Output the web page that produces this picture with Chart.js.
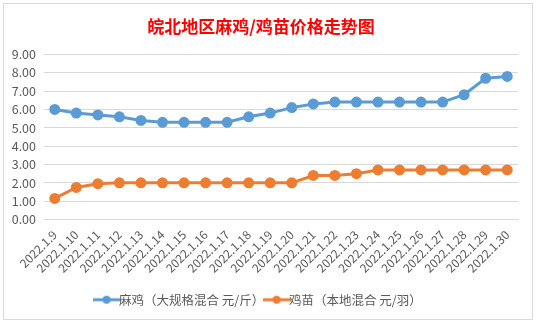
<!DOCTYPE html>
<html>
<head>
<meta charset="utf-8">
<script src="https://cdn.jsdelivr.net/npm/chart.js@4"></script>
<style>
  html, body { margin: 0; padding: 0; background: #fff; }
  body { width: 537px; height: 322px; position: relative; overflow: hidden; }
  #box {
    position: absolute; left: 3px; top: 3px; width: 528px; height: 315px;
    border: 1px solid #d9d9d9; background: #fff;
  }
  #box canvas { position: absolute; left: 0; top: 0; }
</style>
</head>
<body>
<div id="box"><canvas id="chart" width="528" height="315"></canvas></div>
<script>
// dates
const labels = [
  "2022.1.9", "2022.1.10", "2022.1.11", "2022.1.12", "2022.1.13", "2022.1.14",
  "2022.1.15", "2022.1.16", "2022.1.17", "2022.1.18", "2022.1.19", "2022.1.20",
  "2022.1.21", "2022.1.22", "2022.1.23", "2022.1.24", "2022.1.25", "2022.1.26",
  "2022.1.27", "2022.1.28", "2022.1.29", "2022.1.30",
];
const majiPrice = [6.0, 5.8, 5.7, 5.6, 5.4, 5.3, 5.3, 5.3, 5.3, 5.6, 5.8, 6.1, 6.3, 6.4, 6.4, 6.4, 6.4, 6.4, 6.4, 6.8, 7.7, 7.8];
const jimiaoPrice = [1.15, 1.75, 1.95, 2.0, 2.0, 2.0, 2.0, 2.0, 2.0, 2.0, 2.0, 2.0, 2.4, 2.4, 2.5, 2.7, 2.7, 2.7, 2.7, 2.7, 2.7, 2.7];
const seriesNames = ["麻鸡（大规格混合 元/斤）", "鸡苗（本地混合 元/羽）"];
const yTicks = [0, 1, 2, 3, 4, 5, 6, 7, 8, 9];

const blue = "#5b9bd5";
const orange = "#ed7d31";
const grey = "#595959";
const font = "'Noto Sans CJK SC', 'Open Sans', sans-serif";

// little line+dot marker for the legend, like excel
function legendMarker(color) {
  const c = document.createElement("canvas");
  c.width = 28;
  c.height = 10;
  const ctx = c.getContext("2d");
  ctx.strokeStyle = color;
  ctx.lineWidth = 3;
  ctx.beginPath();
  ctx.moveTo(0, 5);
  ctx.lineTo(28, 5);
  ctx.stroke();
  ctx.fillStyle = color;
  ctx.beginPath();
  ctx.arc(14, 5, 4, 0, Math.PI * 2);
  ctx.fill();
  return c;
}
const markers = [legendMarker(blue), legendMarker(orange)];

Chart.defaults.font.family = font;
Chart.defaults.color = grey;

new Chart(document.getElementById("chart"), {
  type: "line",
  data: {
    labels,
    datasets: [
      {
        label: seriesNames[0],
        data: majiPrice,
        borderColor: blue,
        backgroundColor: blue,
        borderWidth: 3,
        pointRadius: 4,
        pointHoverRadius: 4,
      },
      {
        label: seriesNames[1],
        data: jimiaoPrice,
        borderColor: orange,
        backgroundColor: orange,
        borderWidth: 3,
        pointRadius: 4,
        pointHoverRadius: 4,
      },
    ],
  },
  options: {
    responsive: false,
    animation: false,
    layout: { padding: { left: 0, right: 14, top: 0, bottom: 3 } },
    plugins: {
      title: {
        display: true,
        text: "皖北地区麻鸡/鸡苗价格走势图",
        color: "#ff0000",
        font: { size: 17, weight: "bold", family: font },
        padding: { top: 12, bottom: 18 },
      },
      legend: {
        position: "bottom",
        labels: {
          font: { size: 12.5 },
          color: grey,
          boxWidth: 28,
          padding: 6,
          generateLabels(chart) {
            return chart.data.datasets.map((ds, i) => ({
              text: ds.label,
              pointStyle: markers[i],
              fillStyle: ds.borderColor,
              strokeStyle: ds.borderColor,
              fontColor: grey,
              lineWidth: 0,
              datasetIndex: i,
            }));
          },
          usePointStyle: true,
        },
      },
      tooltip: { enabled: false },
    },
    scales: {
      x: {
        offset: true,
        grid: { display: false, drawTicks: false },
        border: { color: "#d9d9d9" },
        afterFit(scale) {
          scale.height = 68;
        },
        ticks: {
          autoSkip: false,
          minRotation: 45,
          maxRotation: 45,
          font: { size: 12 },
          color: grey,
          padding: 8,
        },
      },
      y: {
        min: 0,
        max: 9,
        afterBuildTicks(scale) {
          scale.ticks = yTicks.map((v) => ({ value: v }));
        },
        afterFit(scale) {
          scale.width = 40;
        },
        grid: { color: "#d9d9d9", drawTicks: false },
        border: { display: false },
        ticks: {
          font: { size: 12.5 },
          color: grey,
          padding: 8,
          callback: (v) => Number(v).toFixed(2),
        },
      },
    },
  },
});
</script>
</body>
</html>
